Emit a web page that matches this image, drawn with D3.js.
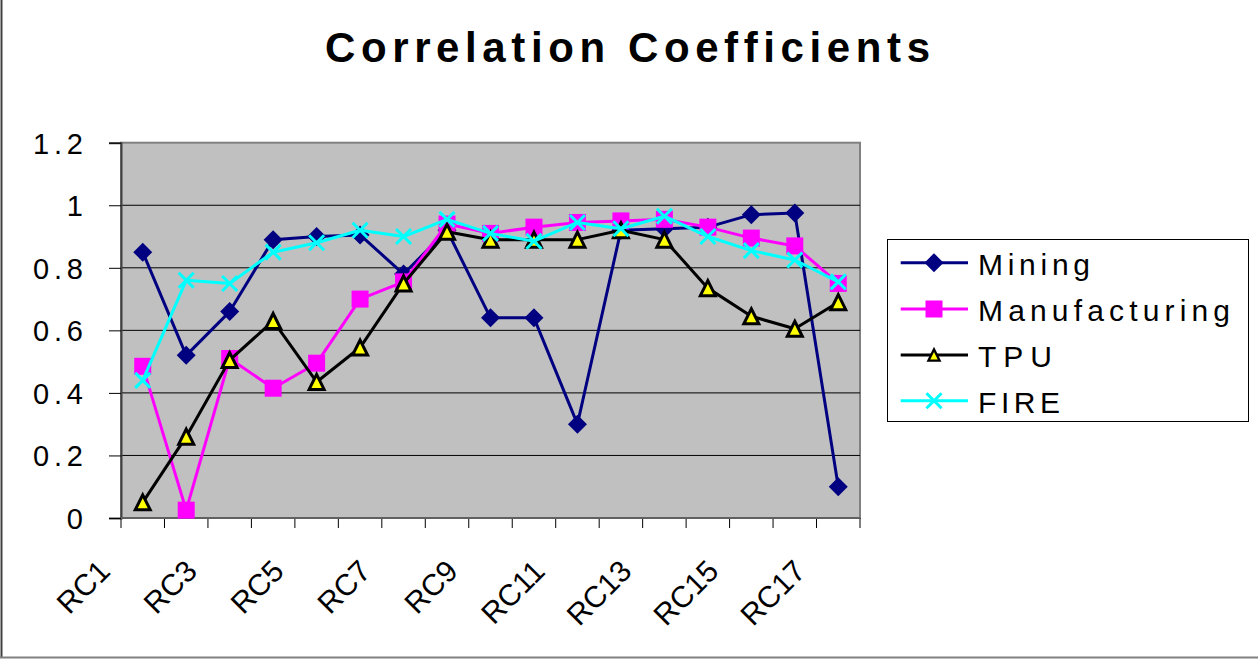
<!DOCTYPE html>
<html>
<head>
<meta charset="utf-8">
<script src="https://cdn.jsdelivr.net/npm/d3@7"></script>
<style>
  body { margin: 0; background: #fff; }
  text { font-family: "Liberation Sans", Arial, sans-serif; }
</style>
</head>
<body>
<div id="chart"></div>
<script>
// chart data
var categories = ["RC1","RC2","RC3","RC4","RC5","RC6","RC7","RC8","RC9","RC10","RC11","RC12","RC13","RC14","RC15","RC16","RC17"];
var mining = [0.85, 0.52, 0.66, 0.89, 0.90, 0.905, 0.78, 0.92, 0.64, 0.64, 0.30, 0.92, 0.925, 0.93, 0.97, 0.975, 0.10];
var manufacturing = [0.485, 0.025, 0.51, 0.415, 0.495, 0.70, 0.755, 0.94, 0.91, 0.93, 0.945, 0.95, 0.955, 0.93, 0.895, 0.87, 0.75];
var tpu = [0.05, 0.26, 0.505, 0.63, 0.435, 0.545, 0.75, 0.915, 0.89, 0.89, 0.89, 0.92, 0.89, 0.735, 0.645, 0.605, 0.69];
var fire = [0.44, 0.76, 0.75, 0.85, 0.88, 0.92, 0.90, 0.955, 0.91, 0.885, 0.945, 0.925, 0.965, 0.90, 0.855, 0.825, 0.755];
var yTicks = [0, 0.2, 0.4, 0.6, 0.8, 1, 1.2];
var seriesNames = ["Mining", "Manufacturing", "TPU", "FIRE"];

var svgWidth = 1258;
var svgHeight = 659;

// plot area
var plot = { left: 121, right: 860, top: 142.7, bottom: 518 };

var svg = d3.select("#chart")
  .append("svg")
  .attr("width", svgWidth)
  .attr("height", svgHeight);

// outer frame (left + bottom edges visible)
svg.append("line").attr("x1", 1.5).attr("x2", 1.5).attr("y1", 0).attr("y2", 658)
  .attr("stroke", "#404040").attr("stroke-width", 2);
svg.append("line").attr("x1", 0).attr("x2", svgWidth).attr("y1", 657.5).attr("y2", 657.5)
  .attr("stroke", "#808080").attr("stroke-width", 2);

// title
svg.append("text")
  .attr("x", 325).attr("y", 62)
  .attr("font-size", 42).attr("font-weight", "bold")
  .attr("textLength", 605).attr("lengthAdjust", "spacing")
  .text("Correlation Coefficients");

var x = d3.scaleBand().domain(categories).range([plot.left, plot.right]).padding(0);
var y = d3.scaleLinear().domain([0, 1.2]).range([plot.bottom, plot.top]);
var cx = function(i) { return x(categories[i]) + x.bandwidth() / 2; };

// plot background
svg.append("rect")
  .attr("x", plot.left).attr("y", plot.top)
  .attr("width", plot.right - plot.left).attr("height", plot.bottom - plot.top)
  .attr("fill", "#C0C0C0").attr("stroke", "#808080").attr("stroke-width", 2);

// gridlines
svg.selectAll("line.grid")
  .data(yTicks.filter(function(t) { return t > 0 && t < 1.2; }))
  .enter().append("line")
  .attr("class", "grid")
  .attr("x1", plot.left).attr("x2", plot.right)
  .attr("y1", function(d) { return y(d); }).attr("y2", function(d) { return y(d); })
  .attr("stroke", "#000").attr("stroke-width", 1);

// y axis
var yAxis = d3.axisLeft(y).tickValues(yTicks).tickSize(12).tickFormat(function(d) { return d3.format("")(+d.toFixed(1)); });
var gy = svg.append("g").attr("transform", "translate(" + plot.left + ",0)").call(yAxis);
gy.select(".domain").attr("stroke", "#404040").attr("stroke-width", 2);
gy.selectAll(".tick line").attr("stroke", "#000");
gy.selectAll(".tick text")
  .attr("x", -38).attr("dy", 10.5)
  .attr("font-size", 29).attr("fill", "#000")
  .attr("font-family", "Liberation Sans, Arial, sans-serif")
  .each(function(d) {
    var s = d3.select(this).text();
    if (s.length > 1) d3.select(this).attr("textLength", 50).attr("lengthAdjust", "spacing");
  });

// x axis: ticks at band boundaries
var bounds = categories.map(function(c) { return x(c); }).concat([plot.right]);
svg.selectAll("line.xtick").data(bounds).enter().append("line")
  .attr("class", "xtick")
  .attr("x1", function(d) { return d; }).attr("x2", function(d) { return d; })
  .attr("y1", plot.bottom).attr("y2", plot.bottom + 10)
  .attr("stroke", "#000");
svg.append("line").attr("x1", plot.left).attr("x2", plot.right)
  .attr("y1", plot.bottom).attr("y2", plot.bottom)
  .attr("stroke", "#606060").attr("stroke-width", 2);

svg.selectAll("text.xlab")
  .data(categories.filter(function(c, i) { return i % 2 === 0; }))
  .enter().append("text")
  .attr("class", "xlab")
  .attr("text-anchor", "end")
  .attr("font-size", 30)
  .attr("transform", function(d) {
    var px = x(d) + x.bandwidth() / 2 - 31;
    return "translate(" + px + ",573) rotate(-45)";
  })
  .text(function(d) { return d; });

// marker shapes
function diamond(s) { return "M0," + (-s) + "L" + s + ",0L0," + s + "L" + (-s) + ",0Z"; }
function square(s) { return "M" + (-s) + "," + (-s) + "h" + (2 * s) + "v" + (2 * s) + "h" + (-2 * s) + "Z"; }
function triangle(s) { return "M0," + (-s) + "L" + s + "," + s + "L" + (-s) + "," + s + "Z"; }
function cross(s) { return "M" + (-s) + "," + (-s) + "L" + s + "," + s + "M" + s + "," + (-s) + "L" + (-s) + "," + s; }

var series = [
  { name: "Mining", values: mining, line: "#000080", path: diamond(9.5), fill: "#000080", stroke: "none", sw: 0 },
  { name: "Manufacturing", values: manufacturing, line: "#FF00FF", path: square(8.5), fill: "#FF00FF", stroke: "none", sw: 0 },
  { name: "TPU", values: tpu, line: "#000000", path: triangle(7.5), fill: "#FFFF00", stroke: "#000", sw: 3 },
  { name: "FIRE", values: fire, line: "#00FFFF", path: cross(7.5), fill: "none", stroke: "#00FFFF", sw: 3 }
];

var lineGen = d3.line()
  .x(function(d, i) { return cx(i); })
  .y(function(d) { return y(d); });

series.forEach(function(s) {
  svg.append("path")
    .datum(s.values)
    .attr("d", lineGen)
    .attr("fill", "none")
    .attr("stroke", s.line)
    .attr("stroke-width", 3)
    .attr("stroke-linejoin", "round");
  svg.selectAll(null)
    .data(s.values)
    .enter().append("path")
    .attr("d", s.path)
    .attr("transform", function(d, i) { return "translate(" + cx(i) + "," + y(d) + ")"; })
    .attr("fill", s.fill)
    .attr("stroke", s.stroke)
    .attr("stroke-width", s.sw)
    .attr("stroke-linejoin", "miter");
});

// legend
var legend = svg.append("g");
legend.append("rect")
  .attr("x", 887.5).attr("y", 239.5).attr("width", 361).attr("height", 182)
  .attr("fill", "#fff").attr("stroke", "#000").attr("stroke-width", 1);
var legendY = [262.7, 309, 355, 400.7];
var legendLen = [112, 252, 74, 82];
series.forEach(function(s, i) {
  var ly = legendY[i];
  legend.append("line")
    .attr("x1", 900.7).attr("x2", 968).attr("y1", ly).attr("y2", ly)
    .attr("stroke", s.line).attr("stroke-width", 3);
  legend.append("path")
    .attr("d", s.path)
    .attr("transform", "translate(934," + ly + ")" + (s.name === "TPU" ? " scale(0.75)" : ""))
    .attr("fill", s.fill).attr("stroke", s.stroke).attr("stroke-width", s.sw);
  legend.append("text")
    .attr("x", 978).attr("y", ly + 12)
    .attr("font-size", 30)
    .attr("textLength", legendLen[i]).attr("lengthAdjust", "spacing")
    .text(seriesNames[i]);
});
</script>
</body>
</html>
